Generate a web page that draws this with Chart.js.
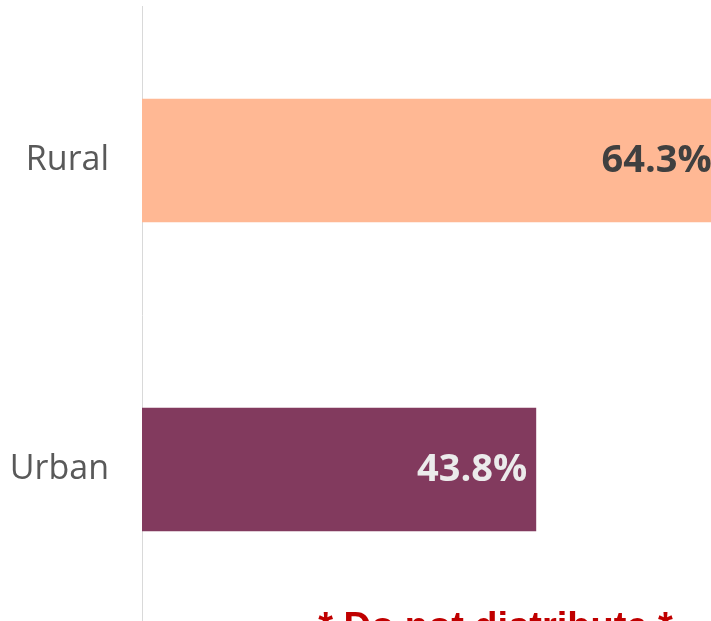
<!DOCTYPE html>
<html>
<head>
<meta charset="utf-8">
<script src="https://cdn.jsdelivr.net/npm/chart.js@4"></script>
<style>
html,body{margin:0;padding:0;background:#fff;overflow:hidden;}
canvas{display:block;}
</style>
</head>
<body>
<canvas id="c" width="780" height="660"></canvas>
<script>
const categories = ["Rural", "Urban"];
const values = [64.3, 43.8];
const valueLabels = ["64.3%", "43.8%"];
const barColors = ["#FFB894", "#823A5E"];
const labelColors = ["#404040", "#EBEBEB"];
const watermark = "* Do not distribute *";

const labelPlugin = {
  id: 'barLabels',
  afterDatasetsDraw(chart) {
    const ctx = chart.ctx;
    const meta = chart.getDatasetMeta(0);
    ctx.save();
    ctx.font = 'bold 38px "Open Sans", sans-serif';
    ctx.textAlign = 'right';
    ctx.textBaseline = 'middle';
    meta.data.forEach((bar, i) => {
      ctx.fillStyle = labelColors[i];
      ctx.fillText(valueLabels[i], bar.x - 9, bar.y + 1);
    });
    ctx.restore();
  },
  afterDraw(chart) {
    const ctx = chart.ctx;
    ctx.save();
    ctx.font = 'bold 38px "Liberation Sans", Arial, sans-serif';
    ctx.textAlign = 'center';
    ctx.textBaseline = 'alphabetic';
    ctx.fillStyle = '#C00000';
    ctx.fillText(watermark, 495.5, 639);
    ctx.restore();
  }
};

new Chart(document.getElementById('c'), {
  type: 'bar',
  data: {
    labels: categories,
    datasets: [{
      data: values,
      backgroundColor: barColors,
      borderWidth: 0,
      barPercentage: 0.4,
      categoryPercentage: 1.0
    }]
  },
  options: {
    indexAxis: 'y',
    responsive: false,
    animation: false,
    layout: { padding: { left: 0, right: 8, top: 6, bottom: 36 } },
    plugins: { legend: { display: false }, tooltip: { enabled: false } },
    scales: {
      x: { display: false, min: 0, max: 70 },
      y: {
        grid: { display: false, drawTicks: true, tickLength: 33 },
        border: { display: true, color: '#D9D9D9', width: 1 },
        ticks: {
          color: '#595959',
          font: { family: '"Open Sans", sans-serif', size: 34, lineHeight: 0.3 },
          padding: 0
        },
        afterFit(scale) {
          scale.width = 142;
          scale.paddingTop = 0;
          scale.paddingBottom = 0;
        }
      }
    }
  },
  plugins: [labelPlugin]
});
</script>
</body>
</html>
